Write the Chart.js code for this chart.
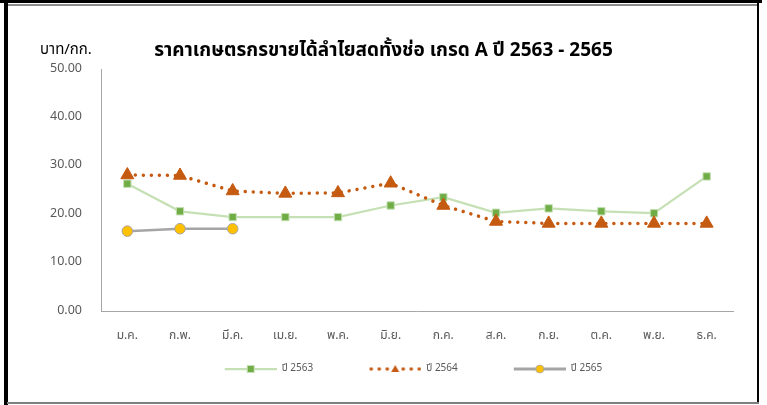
<!DOCTYPE html>
<html>
<head>
<meta charset="utf-8">
<script src="https://cdn.jsdelivr.net/npm/chart.js@4/dist/chart.umd.min.js"></script>
<style>
  html, body { margin: 0; padding: 0; background: #fff; }
  #wrap { position: relative; width: 767px; height: 405px; overflow: hidden; font-family: "Leelawadee UI", Tahoma, "Noto Sans Thai", "Noto Sans", sans-serif; }
  canvas { position: absolute; left: 0; top: 0; }
  .b { position: absolute; }
  #title { position: absolute; left: 0; width: 767px; top: 36px; text-align: center; font-size: 19px; font-weight: bold; color: #000; }
  #unit { position: absolute; left: 40px; top: 38px; font-size: 15px; font-weight: normal; color: #000; }
</style>
</head>
<body>
<div id="wrap">
  <canvas id="c" width="767" height="405"></canvas>
  <div class="b" style="left:0;top:0;width:762px;height:3px;background:#000"></div>
  <div class="b" style="left:7px;top:4px;width:751px;height:2px;background:#8c8c8c"></div>
  <div class="b" style="left:4px;top:0;width:4px;height:405px;background:#000"></div>
  <div class="b" style="left:757px;top:3px;width:2px;height:401px;background:#000"></div>
  <div class="b" style="left:7px;top:402px;width:752px;height:2px;background:#7f7f7f"></div>
  <div id="unit">บาท/กก.</div>
  <div id="title">ราคาเกษตรกรขายได้ลำไยสดทั้งช่อ เกรด A ปี 2563 - 2565</div>
</div>
<script>
const months = ["ม.ค.", "ก.พ.", "มี.ค.", "เม.ย.", "พ.ค.", "มิ.ย.", "ก.ค.", "ส.ค.", "ก.ย.", "ต.ค.", "พ.ย.", "ธ.ค."];
const seriesNames = ["ปี 2563", "ปี 2564", "ปี 2565"];
const y2563 = [26.3, 20.6, 19.4, 19.4, 19.4, 21.8, 23.5, 20.3, 21.2, 20.6, 20.2, 27.8];
const y2564 = [28.1, 28.0, 24.8, 24.3, 24.4, 26.4, 21.8, 18.5, 18.1, 18.1, 18.1, 18.1];
const y2565 = [16.5, 17.0, 17.0];
const yTicks = [0, 10, 20, 30, 40, 50];

const FONT = '"Leelawadee UI", Tahoma, "Noto Sans Thai", "Noto Sans", sans-serif';

function legendImg(kind) {
  const W = 98, H = 14, x0 = 46, x1 = 98, cy = 7, cx = 72;
  const c = document.createElement('canvas');
  c.width = W; c.height = H;
  const g = c.getContext('2d');
  if (kind === 0) {
    g.strokeStyle = '#c5e0b4'; g.lineWidth = 2.25;
    g.beginPath(); g.moveTo(x0, cy); g.lineTo(x1, cy); g.stroke();
    g.fillStyle = '#70ad47'; g.fillRect(cx - 3.5, cy - 3.5, 7, 7);
    g.strokeStyle = '#c5e0b4'; g.lineWidth = 1; g.strokeRect(cx - 3.5, cy - 3.5, 7, 7);
  } else if (kind === 1) {
    g.fillStyle = '#c55a11';
    for (let x = x0 + 2; x <= x1 - 1; x += 8) {
      if (Math.abs(x - cx) < 4) continue;
      g.beginPath(); g.arc(x, cy, 1.8, 0, Math.PI * 2); g.fill();
    }
    g.beginPath(); g.moveTo(cx, cy - 4); g.lineTo(cx + 4, cy + 3); g.lineTo(cx - 4, cy + 3); g.closePath(); g.fill();
  } else {
    g.strokeStyle = '#a5a5a5'; g.lineWidth = 3;
    g.beginPath(); g.moveTo(x0, cy); g.lineTo(x1, cy); g.stroke();
    g.fillStyle = '#ffc000'; g.beginPath(); g.arc(cx, cy, 4, 0, Math.PI * 2); g.fill();
    g.strokeStyle = '#a5a5a5'; g.lineWidth = 0.8; g.stroke();
  }
  return c;
}
const legendImgs = [legendImg(0), legendImg(1), legendImg(2)];

new Chart(document.getElementById('c'), {
  type: 'line',
  data: {
    labels: months,
    datasets: [
      {
        label: seriesNames[0], data: y2563, order: 2,
        borderColor: '#c5e0b4', borderWidth: 2.25, tension: 0,
        pointStyle: 'rect', pointRadius: 5.2, pointHoverRadius: 5.2,
        pointBackgroundColor: '#70ad47', pointBorderColor: '#c5e0b4', pointBorderWidth: 1
      },
      {
        label: seriesNames[1], data: y2564, order: 1,
        borderColor: '#c55a11', borderWidth: 3.5, borderDash: [0.01, 8], borderCapStyle: 'round', tension: 0,
        pointStyle: 'triangle', pointRadius: 7.5, pointHoverRadius: 7.5,
        pointBackgroundColor: '#c55a11', pointBorderColor: '#c55a11', pointBorderWidth: 1
      },
      {
        label: seriesNames[2], data: y2565, order: 3,
        borderColor: '#a5a5a5', borderWidth: 2.5, tension: 0,
        pointStyle: 'circle', pointRadius: 5.3, pointHoverRadius: 5.3,
        pointBackgroundColor: '#ffc000', pointBorderColor: '#a5a5a5', pointBorderWidth: 1
      }
    ]
  },
  options: {
    responsive: false,
    animation: false,
    events: [],
    layout: { padding: { left: 48, right: 34, top: 69, bottom: 21 } },
    scales: {
      x: {
        offset: true,
        grid: { display: false, drawTicks: false },
        border: { display: true, color: '#a6a6a6', width: 1 },
        ticks: { color: '#595959', font: { family: FONT, size: 12 }, padding: 18, maxRotation: 0 },
        afterFit: s => { s.height = 43; }
      },
      y: {
        min: 0, max: 50,
        grid: { display: false, drawTicks: false },
        border: { display: true, color: '#a6a6a6', width: 1 },
        afterBuildTicks: s => { s.ticks = yTicks.map(v => ({ value: v })); },
        ticks: { color: '#595959', font: { family: FONT, size: 12.5 }, padding: 19, callback: v => Number(v).toFixed(2) },
        afterFit: s => { s.width = 53; }
      }
    },
    plugins: {
      title: { display: false },
      tooltip: { enabled: false },
      legend: {
        position: 'bottom',
        labels: {
          usePointStyle: true,
          pointStyleWidth: 98,
          padding: 10,
          color: '#595959',
          font: { family: FONT, size: 10 },
          generateLabels: chart => chart.data.datasets.map((d, i) => ({
            text: d.label, pointStyle: legendImgs[i], datasetIndex: i,
            fontColor: '#595959', hidden: false, lineWidth: 0, strokeStyle: 'transparent', fillStyle: 'transparent'
          })),
          sort: (a, b) => a.datasetIndex - b.datasetIndex
        }
      }
    }
  }
});
</script>
</body>
</html>
